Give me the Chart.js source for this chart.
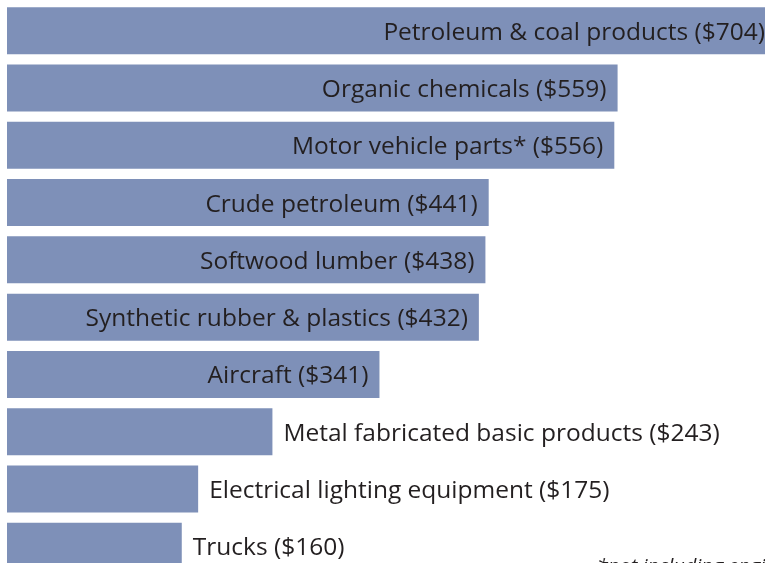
<!DOCTYPE html>
<html>
<head>
<meta charset="utf-8">
<script src="https://cdn.jsdelivr.net/npm/chart.js@4/dist/chart.umd.min.js"></script>
<style>
html,body{margin:0;padding:0;background:#fff;overflow:hidden;}
#wrap{position:relative;width:800px;height:576px;}
</style>
</head>
<body>
<div id="wrap"><canvas id="c"></canvas></div>
<script>
const categories = ["Petroleum & coal products","Organic chemicals","Motor vehicle parts*","Crude petroleum","Softwood lumber","Synthetic rubber & plastics","Aircraft","Metal fabricated basic products","Electrical lighting equipment","Trucks"];
const values = [704,559,556,441,438,432,341,243,175,160];
const footnote = "*not including engines";

const FONT = "'Open Sans', sans-serif";
const labelPlugin = {
  id: 'barLabels',
  afterDatasetsDraw(chart) {
    const ctx = chart.ctx;
    const meta = chart.getDatasetMeta(0);
    ctx.save();
    ctx.font = "24.5px " + FONT;
    ctx.fillStyle = "#231f20";
    ctx.textBaseline = "middle";
    meta.data.forEach((bar, i) => {
      const txt = categories[i] + " ($" + values[i] + ")";
      const end = bar.x;
      if (values[i] >= 300) {
        ctx.textAlign = "right";
        ctx.fillText(txt, end - 11, bar.y + 2);
      } else {
        ctx.textAlign = "left";
        ctx.fillText(txt, end + 11, bar.y + 2);
      }
    });
    ctx.font = "italic 20px " + FONT;
    ctx.textAlign = "left";
    ctx.textBaseline = "alphabetic";
    ctx.fillText(footnote, 597, 573);
    ctx.restore();
  }
};

new Chart(document.getElementById('c'), {
  type: 'bar',
  data: {
    labels: categories,
    datasets: [{
      data: values,
      backgroundColor: '#7e90b8',
      borderWidth: 0,
      categoryPercentage: 1,
      barPercentage: 0.82
    }]
  },
  options: {
    indexAxis: 'y',
    responsive: true,
    maintainAspectRatio: false,
    animation: false,
    layout: { padding: { left: 7, top: 2, bottom: 1, right: 0 } },
    plugins: { legend: { display: false }, tooltip: { enabled: false } },
    scales: {
      x: { display: false, min: 0, max: 726 },
      y: { display: false }
    }
  },
  plugins: [labelPlugin]
});
</script>
</body>
</html>
